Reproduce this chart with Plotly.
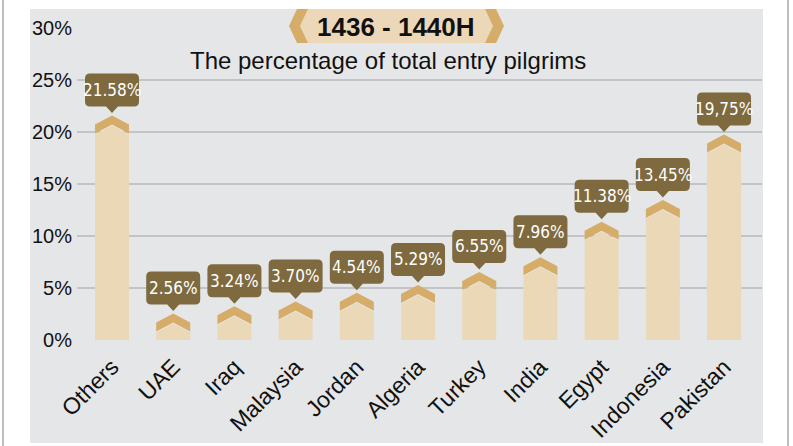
import plotly.graph_objects as go

categories = ["Others", "UAE", "Iraq", "Malaysia", "Jordan", "Algeria", "Turkey",
              "India", "Egypt", "Indonesia", "Pakistan"]
values = [21.58, 2.56, 3.24, 3.70, 4.54, 5.29, 6.55, 7.96, 11.38, 13.45, 19.75]
value_labels = ["21.58%", "2.56%", "3.24%", "3.70%", "4.54%", "5.29%", "6.55%",
                "7.96%", "11.38%", "13.45%", "19,75%"]
y_ticks = [0, 5, 10, 15, 20, 25, 30]
title_text = "1436 - 1440H"
subtitle_text = "The percentage of total entry pilgrims"

W, H = 793, 446
ML, MR, MT, MB = 77, 31, 28, 106
PW, PH = W - ML - MR, H - MT - MB
XR = [-0.572, 10.62]
YR = [0, 30]
XPX = PW / (XR[1] - XR[0])   # px per category unit
YPX = PH / (YR[1] - YR[0])   # px per percent

PANEL = "#e5e6e8"
LIGHT = "#ebd8b7"
GOLD = "#d5ac68"
BROWN = "#7e6a3e"
LABEL_FONT = "DejaVu Sans Condensed, Liberation Sans Narrow, Roboto Condensed, Roboto"


def dx(px):
    return px / XPX


def dy(px):
    return px / YPX


def xp(px):
    return (px - ML) / PW


def yp(py):
    return (H - MB - py) / PH


fig = go.Figure()

hw = dx(17)
drop = dy(9)
thick = dy(10)
xs = list(range(len(categories)))

for i, v in zip(xs, values):
    # light bar body
    fig.add_trace(go.Scatter(
        x=[i - hw, i - hw, i, i + hw, i + hw, i - hw],
        y=[0, v - thick - drop, v - thick, v - thick - drop, 0, 0],
        fill="toself", fillcolor=LIGHT, mode="lines", line=dict(width=0),
        hoverinfo="skip", showlegend=False))
    # chevron cap
    fig.add_trace(go.Scatter(
        x=[i - hw, i, i + hw, i + hw, i, i - hw, i - hw],
        y=[v - drop, v, v - drop, v - drop - thick + dy(1), v - thick + dy(1),
           v - drop - thick + dy(1), v - drop],
        fill="toself", fillcolor=GOLD, mode="lines", line=dict(width=0),
        hoverinfo="skip", showlegend=False))

shapes = []
annotations = []

# panel background and page borders
shapes.append(dict(type="rect", xref="paper", yref="paper", layer="below",
                   x0=xp(30), x1=xp(763), y0=yp(443), y1=yp(9),
                   fillcolor=PANEL, line=dict(width=0)))
for bx in (3, 788):
    shapes.append(dict(type="line", xref="paper", yref="paper",
                       x0=xp(bx), x1=xp(bx), y0=yp(H), y1=yp(0),
                       line=dict(color="#a8a8a8", width=1.5)))

# value label bubbles
bw = dx(27)
rx, ry = dx(5), dy(5)
ptw = dx(6)
for i, v, lab in zip(xs, values, value_labels):
    yb = v + dy(9)
    yt = v + dy(42)
    ytip = v + dy(2.5)
    x0, x1 = i - bw, i + bw
    path = (f"M {x0 + rx},{yt} L {x1 - rx},{yt} Q {x1},{yt} {x1},{yt - ry} "
            f"L {x1},{yb + ry} Q {x1},{yb} {x1 - rx},{yb} "
            f"L {i + ptw},{yb} L {i},{ytip} L {i - ptw},{yb} "
            f"L {x0 + rx},{yb} Q {x0},{yb} {x0},{yb + ry} "
            f"L {x0},{yt - ry} Q {x0},{yt} {x0 + rx},{yt} Z")
    shapes.append(dict(type="path", xref="x", yref="y", path=path,
                       fillcolor=BROWN, line=dict(width=0), layer="above"))
    annotations.append(dict(x=i, y=v + dy(25.5), xref="x", yref="y", text=lab,
                            showarrow=False, xanchor="center", yanchor="middle",
                            font=dict(family=LABEL_FONT, size=17, color="white")))

# title badge
badge_pts = [(308, 9), (485, 9), (493, 26), (485, 43), (308, 43), (300, 26)]
left_chev = [(297, 9), (308, 9), (300, 26), (308, 43), (297, 43), (289, 26)]
right_chev = [(485, 9), (496, 9), (504, 26), (496, 43), (485, 43), (493, 26)]
for pts, col in ((badge_pts, "#ecd8b8"), (left_chev, GOLD), (right_chev, GOLD)):
    p = "M " + " L ".join(f"{xp(a)},{yp(b)}" for a, b in pts) + " Z"
    shapes.append(dict(type="path", xref="paper", yref="paper", path=p,
                       fillcolor=col, line=dict(width=0), layer="above"))

annotations.append(dict(x=xp(396), y=yp(27), xref="paper", yref="paper",
                        text=f"<b>{title_text}</b>", showarrow=False,
                        xanchor="center", yanchor="middle",
                        font=dict(family="Liberation Sans, Arial", size=26, color="#111")))
annotations.append(dict(x=xp(388), y=yp(61), xref="paper", yref="paper",
                        text=subtitle_text, showarrow=False,
                        xanchor="center", yanchor="middle",
                        font=dict(family="Liberation Sans, Arial", size=24, color="#111")))

fig.update_layout(
    width=W, height=H,
    margin=dict(l=ML, r=MR, t=MT, b=MB, autoexpand=False),
    paper_bgcolor="white", plot_bgcolor=PANEL,
    shapes=shapes, annotations=annotations,
    showlegend=False,
    xaxis=dict(range=XR, tickvals=xs, ticktext=categories, tickangle=-45,
               showgrid=False, zeroline=False, showline=False, ticks="",
               automargin=False, ticklabelstandoff=8,
               tickfont=dict(family="Liberation Sans, Arial", size=23, color="#111"),
               fixedrange=True),
    yaxis=dict(range=YR, tickvals=y_ticks, ticktext=[f"{t}%" for t in y_ticks],
               showgrid=True, gridcolor="#c3c4c7", gridwidth=1.5,
               zeroline=False, showline=False, ticks="", ticklabelstandoff=4,
               automargin=False,
               tickfont=dict(family="Liberation Sans, Arial", size=20, color="#111"),
               fixedrange=True),
)

fig.write_html(
    "out.html",
    config={"displayModeBar": False},
    post_script="document.body.style.margin='0';document.body.style.overflow='hidden';",
)
